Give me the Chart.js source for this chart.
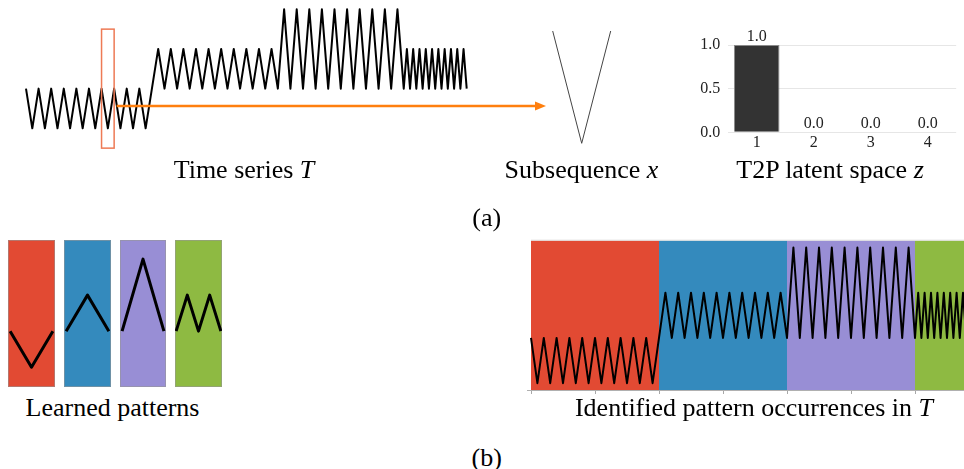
<!DOCTYPE html>
<html><head><meta charset="utf-8">
<script src="https://cdn.jsdelivr.net/npm/chart.js@4/dist/chart.umd.min.js"></script>
<style>
html,body{margin:0;padding:0;background:#fff;}
body{width:964px;height:469px;overflow:hidden;position:relative;font-family:'Liberation Serif','Times New Roman','DejaVu Serif',serif;}
.box{position:absolute;}
.box canvas{display:block;}
.cap{position:absolute;width:500px;text-align:center;font-size:26px;line-height:26px;color:#000;white-space:nowrap;}
</style></head><body>
<div class="box" style="left:0;top:0;width:560px;height:160px"><canvas id="ts" width="560" height="160"></canvas></div>
<div class="box" style="left:540px;top:0;width:90px;height:160px"><canvas id="sub" width="90" height="160"></canvas></div>
<div class="box" style="left:672px;top:0;width:292px;height:160px"><canvas id="lat" width="292" height="160"></canvas></div>
<div class="box" style="left:8px;top:240px;width:47px;height:147px"><canvas id="p0" width="47" height="147"></canvas></div>
<div class="box" style="left:64px;top:240px;width:47px;height:147px"><canvas id="p1" width="47" height="147"></canvas></div>
<div class="box" style="left:120px;top:240px;width:46px;height:147px"><canvas id="p2" width="46" height="147"></canvas></div>
<div class="box" style="left:175px;top:240px;width:47px;height:147px"><canvas id="p3" width="47" height="147"></canvas></div>
<div class="box" style="left:500px;top:230px;width:500px;height:170px"><canvas id="occ" width="500" height="170"></canvas></div>

<div class="cap" style="left:-6px;top:156.5px">Time series <i>T</i></div>
<div class="cap" style="left:331.5px;top:156.5px">Subsequence <i>x</i></div>
<div class="cap" style="left:580px;top:156.5px">T2P latent space <i>z</i></div>
<div class="cap" style="left:236.7px;top:204.7px">(a)</div>
<div class="cap" style="left:-137.5px;top:394.9px">Learned patterns</div>
<div class="cap" style="left:504px;top:394.9px">Identified pattern occurrences in <i>T</i></div>
<div class="cap" style="left:236.7px;top:444.5px">(b)</div>

<script>
// ---- data ----
const timeIndex = [0,1,2,3,4,5,6,7,8,9,10,11,12,13,14,15,16,17,18,19,20,21,22,23,24,25,26,27,28,29,30,31,32,33,34,35,36,37,38,39,40,41,42,43,44,45,46,47,48,49,50,51,52,53,54,55,56,57,58,59,60,60.5,61,61.5,62,62.5,63,63.5,64,64.5,65,65.5,66,66.5,67,67.5,68,68.5,69,69.5,70];
const segment1 = [0,-1,0,-1,0,-1,0,-1,0,-1,0,-1,0,-1,0,-1,0,-1,0,-1];
const segment2 = [0,1,0,1,0,1,0,1,0,1,0,1,0,1,0,1,0,1,0,1,0];
const segment3 = [2,0,2,0,2,0,2,0,2,0,2,0,2,0,2,0,2,0,2,0];
const segment4 = [1,0,1,0,1,0,1,0,1,0,1,0,1,0,1,0,1,0,1,0];
const seriesT = [...segment1, ...segment2, ...segment3, ...segment4];

const windowStart = 12, windowEnd = 14;
const subsequenceX = [0,-1,0];

const latentLabels = ['1','2','3','4'];
const latentZ = [1.0, 0.0, 0.0, 0.0];
const latentTicks = [0.0, 0.5, 1.0];

const patternV = [0,-1,0];
const patternUp = [0,1,0];
const patternPeak = [0,2,0];
const patternM = [0,1,0,1,0];
const learnedPatterns = [patternV, patternUp, patternPeak, patternM];
const patternColors = ['#E24A33','#348ABD','#988ED5','#8EBA42'];

const occurrenceStart = [0,20,40,60];
const occurrenceEnd = [20,40,60,72];
const occurrencePattern = [0,1,2,3];
const occurrenceTicks = [0,10,20,30,40,50,60,70];

// ---- setup ----
const SERIF = "'Liberation Serif','Times New Roman','DejaVu Serif',serif";
Chart.defaults.font.family = SERIF;
Chart.defaults.animation = false;
Chart.defaults.responsive = false;
Chart.defaults.plugins.legend.display = false;
Chart.defaults.plugins.tooltip.enabled = false;
Chart.defaults.layout.autoPadding = false;

const seriesPoints = timeIndex.map((t, i) => ({x: t, y: seriesT[i]}));

// Time series T with subsequence window and arrow
new Chart(document.getElementById('ts'), {
  type: 'line',
  data: {datasets: [{data: seriesPoints, borderColor: '#000', borderWidth: 2, pointRadius: 0,
    tension: 0, borderJoinStyle: 'round', clip: false}]},
  options: {
    layout: {padding: {left: 26, right: 93.3, top: 9.3, bottom: 31.7}},
    scales: {x: {type: 'linear', min: 0, max: 70, display: false},
             y: {min: -1, max: 2, display: false}}
  },
  plugins: [{id: 'window', afterDatasetsDraw(c) {
    const {ctx, scales: {x, y}} = c;
    const x1 = x.getPixelForValue(windowStart), x2 = x.getPixelForValue(windowEnd);
    const yt = y.getPixelForValue(1.5), yb = y.getPixelForValue(-1.5);
    ctx.save();
    ctx.strokeStyle = '#ee7a55'; ctx.lineWidth = 1.5;
    ctx.strokeRect(x1, yt, x2 - x1, yb - yt);
    // arrow
    const ay = y.getPixelForValue(-0.44);
    const ax0 = x2 + 2.5, ax1 = x.getPixelForValue(82.6);
    ctx.strokeStyle = '#ff7f0e'; ctx.fillStyle = '#ff7f0e'; ctx.lineWidth = 2.5;
    ctx.beginPath(); ctx.moveTo(ax0, ay); ctx.lineTo(ax1 - 10, ay); ctx.stroke();
    ctx.beginPath(); ctx.moveTo(ax1, ay); ctx.lineTo(ax1 - 11, ay - 4.5); ctx.lineTo(ax1 - 11, ay + 4.5); ctx.closePath(); ctx.fill();
    ctx.restore();
  }}]
});

// Subsequence x
new Chart(document.getElementById('sub'), {
  type: 'line',
  data: {datasets: [{data: subsequenceX.map((v, i) => ({x: i, y: v})), borderColor: '#444', borderWidth: 1,
    pointRadius: 0, tension: 0, clip: false}]},
  options: {
    layout: {padding: {left: 12.7, right: 19.3, top: 31, bottom: 16.7}},
    scales: {x: {type: 'linear', min: 0, max: 2, display: false},
             y: {min: -1, max: 0, display: false}}
  }
});

// Latent space bar chart
new Chart(document.getElementById('lat'), {
  type: 'bar',
  data: {labels: latentLabels, datasets: [{data: latentZ, backgroundColor: '#333333', borderColor: '#8a8a8a',
    borderWidth: 1, barPercentage: 0.8, categoryPercentage: 1.0}]},
  options: {
    layout: {padding: {left: 0, right: 7.8, top: 45, bottom: 5.7}},
    scales: {
      x: {grid: {display: false}, border: {display: false},
          ticks: {color: '#222', font: {size: 16}, padding: -7},
          afterFit(s) { s.height = 22; }},
      y: {min: 0, max: 1, border: {display: false},
          grid: {color: '#e6e6e6', drawTicks: false},
          ticks: {color: '#222', font: {size: 16}, padding: 8,
                  callback: v => v.toFixed(1)},
          afterBuildTicks(s) { s.ticks = latentTicks.map(v => ({value: v})); },
          afterFit(s) { s.width = 56.2; }}
    }
  },
  plugins: [{id: 'labels', afterDatasetsDraw(c) {
    const {ctx} = c;
    const meta = c.getDatasetMeta(0);
    ctx.save();
    ctx.font = '16px ' + SERIF; ctx.fillStyle = '#222';
    ctx.textAlign = 'center'; ctx.textBaseline = 'alphabetic';
    meta.data.forEach((bar, i) => { ctx.fillText(latentZ[i].toFixed(1), bar.x, bar.y - 4.5); });
    ctx.restore();
  }}]
});

// Learned patterns
learnedPatterns.forEach((pat, p) => {
  new Chart(document.getElementById('p' + p), {
    type: 'line',
    data: {datasets: [{data: pat.map((v, i) => ({x: i, y: v})), borderColor: '#000', borderWidth: 3,
      pointRadius: 0, tension: 0, borderJoinStyle: 'round', clip: false}]},
    options: {
      layout: {padding: 0},
      scales: {x: {type: 'linear', min: -0.1, max: pat.length - 0.9, display: false},
               y: {min: -1.55, max: 2.53, display: false}}
    },
    plugins: [{id: 'bg', beforeDraw(c) {
      const {ctx, width, height} = c;
      ctx.save();
      ctx.fillStyle = patternColors[p]; ctx.fillRect(0, 0, width, height);
      ctx.strokeStyle = 'rgba(150,150,150,0.6)'; ctx.lineWidth = 1;
      ctx.strokeRect(0.5, 0.5, width - 1, height - 1);
      ctx.restore();
    }}]
  });
});

// Identified pattern occurrences in T
new Chart(document.getElementById('occ'), {
  type: 'line',
  data: {datasets: [{data: seriesPoints, borderColor: '#000', borderWidth: 2, pointRadius: 0,
    tension: 0, borderJoinStyle: 'round'}]},
  options: {
    layout: {padding: {left: 27.8, right: 8.2, top: 10.7, bottom: 6}},
    scales: {
      x: {type: 'linear', min: -0.5, max: 72,
          ticks: {display: false},
          grid: {display: true, drawOnChartArea: false, drawTicks: true, tickLength: 4, color: '#a8a8a8'},
          border: {display: true, color: '#b0b0b0', width: 1},
          afterBuildTicks(s) { s.ticks = occurrenceTicks.map(v => ({value: v})); }},
      y: {min: -1.15, max: 2.15, display: false}
    }
  },
  plugins: [{id: 'spans', beforeDraw(c) {
    const {ctx, chartArea: a, scales: {x}} = c;
    ctx.save();
    occurrenceStart.forEach((s, i) => {
      const x0 = x.getPixelForValue(s), x1 = Math.min(x.getPixelForValue(occurrenceEnd[i]), a.right);
      ctx.fillStyle = patternColors[occurrencePattern[i]];
      ctx.fillRect(x0, a.top, x1 - x0, a.bottom - a.top);
    });
    ctx.strokeStyle = '#dcdcdc'; ctx.lineWidth = 1;
    ctx.beginPath(); ctx.moveTo(x.getPixelForValue(0), a.top - 0.5); ctx.lineTo(a.right, a.top - 0.5); ctx.stroke();
    ctx.restore();
  }}]
});
</script>
</body></html>
